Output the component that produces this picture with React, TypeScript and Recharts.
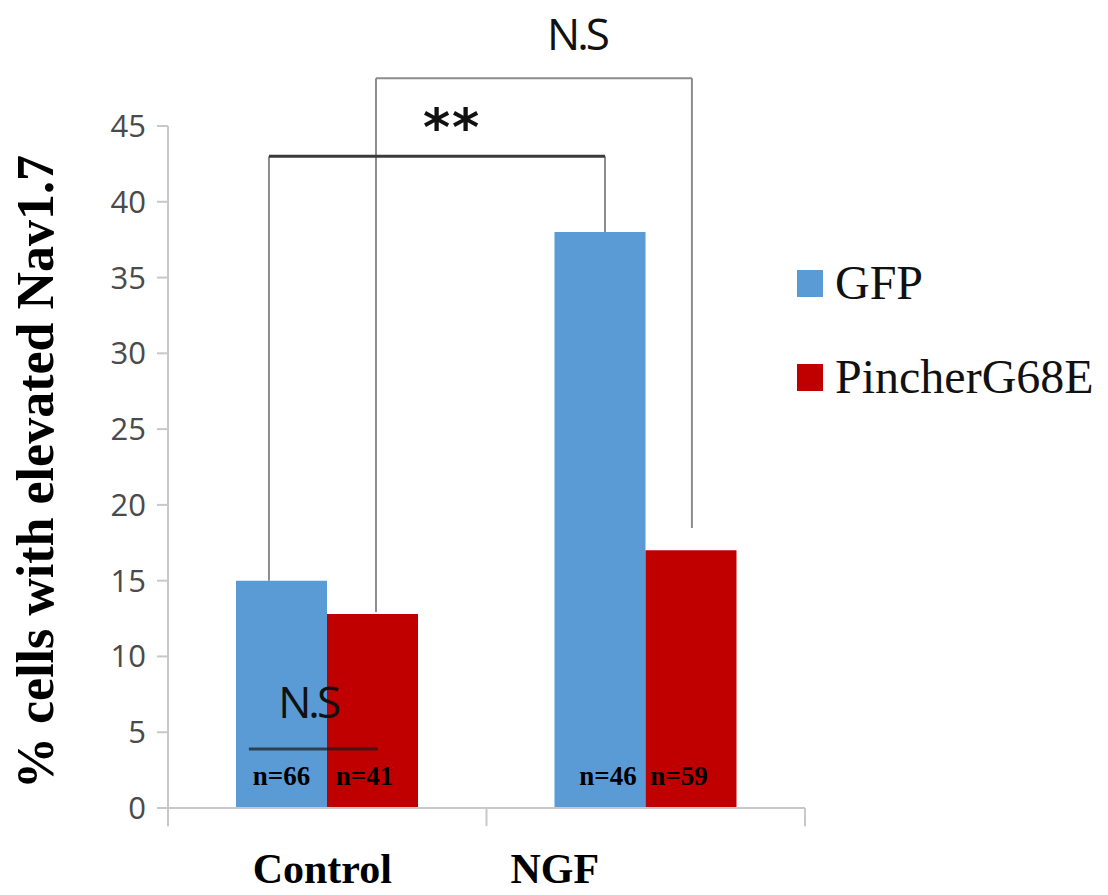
import React from 'react';
import {
  BarChart,
  Bar,
  XAxis,
  YAxis,
  Legend,
  LabelList,
  Label,
  ReferenceLine,
  ReferenceDot,
} from 'recharts';

const categories = ['Control', 'NGF'];
const gfpValues = [15, 38];
const pincherValues = [12.8, 17];
const gfpCounts = ['n=66', 'n=46'];
const pincherCounts = ['n=41', 'n=59'];
const yTicks = [0, 5, 10, 15, 20, 25, 30, 35, 40, 45];

// small horizontal nudges of the n= labels inside the bars
const gfpCountShift = [0, 8];
const pincherCountShift = [-8, -12];

const series = [
  { key: 'gfp', name: 'GFP', color: '#5B9BD5', counts: gfpCounts, shift: gfpCountShift },
  { key: 'pincher', name: 'PincherG68E', color: '#C00000', counts: pincherCounts, shift: pincherCountShift },
];

const data = categories.map((name, i) => ({
  name,
  gfp: gfpValues[i],
  pincher: pincherValues[i],
}));

// annotations: x is a fraction of the plot width (hidden 0..1 axis), y is in data units
const brackets = [
  { x1: 0.1585, x2: 0.686, top: 43.0, end1: 15, end2: 38, topStroke: '#3a3a3a', topWidth: 3 },
  { x1: 0.3265, x2: 0.8225, top: 48.15, end1: 12.93, end2: 18.47, topStroke: '#8c8c8c', topWidth: 2 },
];
const marks = [
  { text: '**', x: 0.446, y: 43.75, font: 'DejaVu Sans', size: 52, weight: 'bold', spacing: 2 },
  { text: 'N.S', x: 0.642, y: 50.0, font: 'Open Sans', size: 44, weight: 'normal', spacing: -3 },
  { text: 'N.S', x: 0.22, y: 5.94, font: 'Open Sans', size: 44, weight: 'normal', spacing: -3 },
];
const underline = { x1: 0.127, x2: 0.3295, y: 3.9 };
const boundaryTicks = [0, 0.5, 1];

// label nudges for the category names under the axis
const categoryShift = [-5, -91];

const CategoryTick = (props: any) => {
  const { x, y, payload, index } = props;
  return (
    <text
      x={x + categoryShift[index]}
      y={y + 75}
      textAnchor="middle"
      fontFamily="'Liberation Serif', 'Times New Roman', serif"
      fontWeight="bold"
      fontSize={42}
      fill="#000"
    >
      {payload.value}
    </text>
  );
};

const renderLegend = (props: any) => {
  const { payload } = props;
  return (
    <div>
      {payload.map((entry: any) => (
        <div
          key={entry.value}
          style={{ display: 'flex', alignItems: 'center', height: 94, whiteSpace: 'nowrap' }}
        >
          <span
            style={{ width: 26, height: 27, background: entry.color, marginRight: 12, display: 'inline-block' }}
          />
          <span
            style={{
              fontFamily: "'Liberation Serif', 'Times New Roman', serif",
              fontSize: 48,
              lineHeight: '94px',
              color: '#111',
            }}
          >
            {entry.value}
          </span>
        </div>
      ))}
    </div>
  );
};

const YTitle = (props: any) => {
  const { viewBox } = props;
  const cx = viewBox.x + 45;
  const cy = viewBox.y + viewBox.height / 2 + 5;
  return (
    <text
      x={cx}
      y={cy}
      transform={`rotate(-90 ${cx} ${cy})`}
      textAnchor="middle"
      fontFamily="'Liberation Serif', 'Times New Roman', serif"
      fontWeight="bold"
      fontSize={52}
      fill="#000"
    >
      % cells with elevated Nav1.7
    </text>
  );
};

export default function App() {
  return (
    <div style={{ width: 1100, height: 887, overflow: 'hidden', position: 'relative', background: '#fff' }}>
      <BarChart
        width={1100}
        height={887}
        data={data}
        margin={{ top: 118, right: 303, bottom: 0, left: 0 }}
        barGap={0}
        barSize={91}
      >
        <XAxis xAxisId="pos" type="number" domain={[0, 1]} allowDataOverflow hide />
        <XAxis
          dataKey="name"
          height={87}
          axisLine={{ stroke: '#c8c8c8', strokeWidth: 2 }}
          tickLine={false}
          tickSize={0}
          tickMargin={0}
          tick={<CategoryTick />}
        />
        <YAxis
          width={160}
          domain={[0, 45]}
          ticks={yTicks}
          interval={0}
          tickSize={11}
          tickMargin={11}
          axisLine={{ stroke: '#c8c8c8', strokeWidth: 2 }}
          tickLine={{ stroke: '#c8c8c8', strokeWidth: 2 }}
          tick={{ fill: '#4a4a4a', fontSize: 31, fontFamily: "'Open Sans', sans-serif" }}
        >
          <Label content={<YTitle />} />
        </YAxis>
        <Legend
          layout="vertical"
          align="center"
          verticalAlign="middle"
          wrapperStyle={{ left: 789, top: 228, width: 330 }}
          content={renderLegend}
        />
        {series.map((s) => (
          <Bar key={s.key} dataKey={s.key} name={s.name} fill={s.color} isAnimationActive={false}>
            <LabelList
              dataKey={s.key}
              content={(p: any) => (
                <text
                  x={p.x + p.width / 2 + s.shift[p.index]}
                  y={p.y + p.height - 23}
                  textAnchor="middle"
                  fontFamily="'Liberation Serif', 'Times New Roman', serif"
                  fontWeight="bold"
                  fontSize={27}
                  fill="#000"
                >
                  {s.counts[p.index]}
                </text>
              )}
            />
          </Bar>
        ))}
        {boundaryTicks.map((t) => (
          <ReferenceLine
            key={`b${t}`}
            xAxisId="pos"
            ifOverflow="visible"
            segment={[{ x: t, y: 0 }, { x: t, y: -1.2 }]}
            stroke="#c8c8c8"
            strokeWidth={2}
          />
        ))}
        {brackets.map((b, i) => (
          <ReferenceLine
            key={`l${i}`}
            xAxisId="pos"
            ifOverflow="visible"
            segment={[{ x: b.x1, y: b.end1 }, { x: b.x1, y: b.top }]}
            stroke="#8c8c8c"
            strokeWidth={2}
          />
        ))}
        {brackets.map((b, i) => (
          <ReferenceLine
            key={`r${i}`}
            xAxisId="pos"
            ifOverflow="visible"
            segment={[{ x: b.x2, y: b.end2 }, { x: b.x2, y: b.top }]}
            stroke="#8c8c8c"
            strokeWidth={2}
          />
        ))}
        {brackets.map((b, i) => (
          <ReferenceLine
            key={`t${i}`}
            xAxisId="pos"
            ifOverflow="visible"
            segment={[{ x: b.x1, y: b.top }, { x: b.x2, y: b.top }]}
            stroke={b.topStroke}
            strokeWidth={b.topWidth}
          />
        ))}
        <ReferenceLine
          xAxisId="pos"
          ifOverflow="visible"
          segment={[{ x: underline.x1, y: underline.y }, { x: underline.x2, y: underline.y }]}
          stroke="#1a1a1a"
          strokeOpacity={0.7}
          strokeWidth={3}
        />
        {marks.map((m, i) => (
          <ReferenceDot
            key={`m${i}`}
            xAxisId="pos"
            x={m.x}
            y={m.y}
            ifOverflow="visible"
            shape={(p: any) => (
              <text
                x={p.cx}
                y={p.cy}
                textAnchor="middle"
                fontFamily={m.font}
                fontWeight={m.weight}
                fontSize={m.size}
                letterSpacing={m.spacing}
                fill="#111"
              >
                {m.text}
              </text>
            )}
          />
        ))}
      </BarChart>
    </div>
  );
}
